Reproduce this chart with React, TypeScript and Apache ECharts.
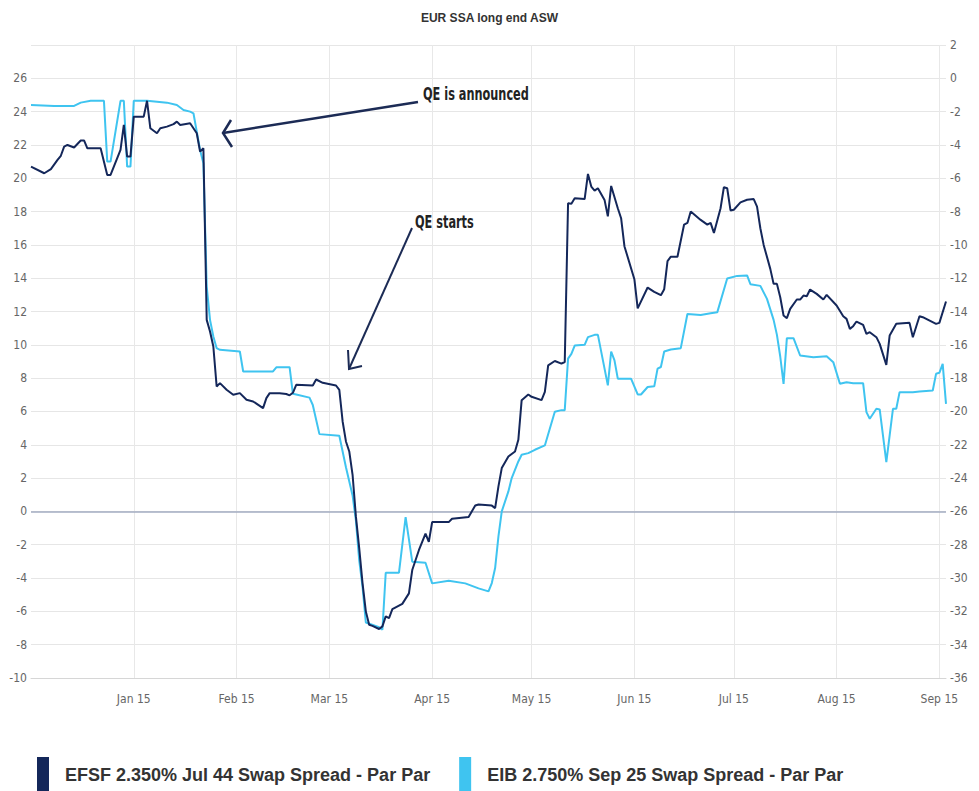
import React, { useEffect, useRef } from "react";
import * as echarts from "echarts";

const TITLE = "EUR SSA long end ASW";
const EFSF_NAME = "EFSF 2.350% Jul 44 Swap Spread - Par Par";
const EIB_NAME = "EIB 2.750% Sep 25 Swap Spread - Par Par";
const START_DATE = "2014-12-01";
const END_DATE = "2015-09-03";
const MONTHS = ["Jan", "Feb", "Mar", "Apr", "May", "Jun", "Jul", "Aug", "Sep", "Oct", "Nov", "Dec"];

// EFSF (left axis)
const EFSF: [string, number][] = [
  ["2014-12-01", 20.7], ["2014-12-05", 20.3], ["2014-12-07", 20.55], ["2014-12-09", 21.1],
  ["2014-12-10", 21.35], ["2014-12-11", 21.9], ["2014-12-12", 22.0], ["2014-12-14", 21.85],
  ["2014-12-16", 22.27], ["2014-12-17", 22.27], ["2014-12-18", 21.8], ["2014-12-22", 21.8],
  ["2014-12-24", 20.2], ["2014-12-25", 20.2], ["2014-12-28", 21.7], ["2014-12-29", 23.2],
  ["2014-12-30", 21.3], ["2014-12-31", 21.3], ["2015-01-01", 23.7], ["2015-01-04", 23.7],
  ["2015-01-05", 24.65], ["2015-01-06", 23.0], ["2015-01-08", 22.7], ["2015-01-09", 23.0],
  ["2015-01-11", 23.1], ["2015-01-13", 23.25], ["2015-01-14", 23.4], ["2015-01-15", 23.2],
  ["2015-01-18", 23.3], ["2015-01-20", 22.7], ["2015-01-21", 21.6], ["2015-01-22", 21.8],
  ["2015-01-23", 11.5], ["2015-01-24", 10.8], ["2015-01-25", 9.9], ["2015-01-26", 7.5],
  ["2015-01-27", 7.7], ["2015-01-29", 7.3], ["2015-01-31", 7.0], ["2015-02-02", 7.1],
  ["2015-02-04", 6.7], ["2015-02-06", 6.6], ["2015-02-09", 6.2], ["2015-02-10", 6.8],
  ["2015-02-11", 7.1], ["2015-02-14", 7.1], ["2015-02-16", 7.05], ["2015-02-17", 6.97],
  ["2015-02-18", 7.12], ["2015-02-19", 7.6], ["2015-02-24", 7.56], ["2015-02-25", 7.92],
  ["2015-02-27", 7.72], ["2015-03-03", 7.56], ["2015-03-04", 7.3], ["2015-03-05", 5.4],
  ["2015-03-06", 4.2], ["2015-03-07", 3.6], ["2015-03-08", 2.2], ["2015-03-09", -0.3],
  ["2015-03-10", -2.2], ["2015-03-11", -4.3], ["2015-03-12", -6.0], ["2015-03-13", -6.8],
  ["2015-03-14", -6.87], ["2015-03-16", -7.06], ["2015-03-17", -6.9], ["2015-03-18", -6.3],
  ["2015-03-19", -6.4], ["2015-03-20", -5.87], ["2015-03-23", -5.55], ["2015-03-25", -4.92],
  ["2015-03-26", -3.52], ["2015-03-28", -2.33], ["2015-03-30", -1.33], ["2015-03-31", -1.83],
  ["2015-04-01", -0.64], ["2015-04-06", -0.64], ["2015-04-07", -0.44], ["2015-04-12", -0.34],
  ["2015-04-14", 0.36], ["2015-04-15", 0.42], ["2015-04-19", 0.35], ["2015-04-20", 0.2],
  ["2015-04-21", 1.5], ["2015-04-22", 2.6], ["2015-04-24", 3.3], ["2015-04-26", 3.6],
  ["2015-04-27", 4.3], ["2015-04-28", 6.68], ["2015-04-30", 7.02], ["2015-05-01", 6.88],
  ["2015-05-04", 6.68], ["2015-05-05", 7.18], ["2015-05-06", 8.77], ["2015-05-08", 9.03],
  ["2015-05-10", 8.87], ["2015-05-11", 8.97], ["2015-05-12", 18.5], ["2015-05-13", 18.47],
  ["2015-05-14", 18.8], ["2015-05-17", 18.75], ["2015-05-18", 20.26], ["2015-05-19", 19.5],
  ["2015-05-20", 19.26], ["2015-05-21", 19.4], ["2015-05-23", 18.7], ["2015-05-24", 17.71],
  ["2015-05-25", 19.54], ["2015-05-27", 18.2], ["2015-05-28", 17.6], ["2015-05-29", 15.92],
  ["2015-06-01", 13.94], ["2015-06-02", 12.19], ["2015-06-05", 13.44], ["2015-06-07", 13.18],
  ["2015-06-09", 12.98], ["2015-06-10", 13.34], ["2015-06-11", 15.03], ["2015-06-12", 15.29],
  ["2015-06-14", 15.29], ["2015-06-16", 17.22], ["2015-06-17", 17.32], ["2015-06-18", 18.0],
  ["2015-06-21", 17.5], ["2015-06-23", 17.22], ["2015-06-24", 17.32], ["2015-06-25", 16.72],
  ["2015-06-27", 18.2], ["2015-06-28", 19.46], ["2015-06-29", 19.4], ["2015-06-30", 18.07],
  ["2015-07-01", 18.11], ["2015-07-03", 18.55], ["2015-07-05", 18.71], ["2015-07-07", 18.75],
  ["2015-07-08", 18.3], ["2015-07-09", 17.0], ["2015-07-10", 16.0], ["2015-07-12", 14.56],
  ["2015-07-13", 13.66], ["2015-07-14", 13.66], ["2015-07-15", 12.86], ["2015-07-16", 11.76],
  ["2015-07-17", 11.6], ["2015-07-18", 12.16], ["2015-07-20", 12.72], ["2015-07-21", 12.72],
  ["2015-07-22", 12.96], ["2015-07-23", 12.92], ["2015-07-24", 13.32], ["2015-07-26", 13.06],
  ["2015-07-28", 12.72], ["2015-07-29", 13.0], ["2015-08-01", 12.36], ["2015-08-03", 11.72],
  ["2015-08-04", 11.56], ["2015-08-05", 10.96], ["2015-08-06", 11.12], ["2015-08-07", 11.4],
  ["2015-08-09", 11.2], ["2015-08-10", 10.66], ["2015-08-11", 10.76], ["2015-08-13", 10.46],
  ["2015-08-14", 10.06], ["2015-08-16", 8.8], ["2015-08-17", 10.56], ["2015-08-19", 11.26],
  ["2015-08-23", 11.32], ["2015-08-24", 10.46], ["2015-08-26", 11.72], ["2015-08-27", 11.66],
  ["2015-08-31", 11.26], ["2015-09-01", 11.32], ["2015-09-03", 12.6],
];

// EIB (right axis)
const EIB: [string, number][] = [
  ["2014-12-01", -1.6], ["2014-12-08", -1.66], ["2014-12-14", -1.66], ["2014-12-16", -1.46],
  ["2014-12-19", -1.35], ["2014-12-23", -1.35], ["2014-12-24", -5.0], ["2014-12-25", -5.0],
  ["2014-12-28", -1.35], ["2014-12-29", -1.35], ["2014-12-30", -5.3], ["2014-12-31", -5.3],
  ["2015-01-01", -1.35], ["2015-01-05", -1.35], ["2015-01-11", -1.46], ["2015-01-14", -1.6],
  ["2015-01-16", -1.9], ["2015-01-18", -2.0], ["2015-01-19", -2.1], ["2015-01-20", -3.2],
  ["2015-01-21", -4.3], ["2015-01-22", -5.1], ["2015-01-23", -12.5], ["2015-01-24", -14.5],
  ["2015-01-25", -15.5], ["2015-01-26", -16.2], ["2015-01-27", -16.3], ["2015-02-02", -16.4],
  ["2015-02-03", -17.6], ["2015-02-12", -17.6], ["2015-02-13", -17.35], ["2015-02-17", -17.34],
  ["2015-02-18", -18.94], ["2015-02-19", -18.98], ["2015-02-23", -19.17], ["2015-02-24", -19.61],
  ["2015-02-26", -21.36], ["2015-03-04", -21.46], ["2015-03-06", -23.35], ["2015-03-08", -25.04],
  ["2015-03-09", -26.54], ["2015-03-10", -28.93], ["2015-03-11", -30.52], ["2015-03-12", -32.67],
  ["2015-03-16", -32.95], ["2015-03-17", -33.1], ["2015-03-18", -29.68], ["2015-03-22", -29.68],
  ["2015-03-24", -26.34], ["2015-03-26", -29.02], ["2015-03-30", -29.08], ["2015-04-01", -30.32],
  ["2015-04-06", -30.16], ["2015-04-11", -30.32], ["2015-04-15", -30.62], ["2015-04-18", -30.8],
  ["2015-04-19", -30.3], ["2015-04-20", -29.4], ["2015-04-21", -27.5], ["2015-04-22", -26.0],
  ["2015-04-24", -24.8], ["2015-04-25", -24.0], ["2015-04-27", -23.0], ["2015-04-28", -22.6],
  ["2015-04-30", -22.5], ["2015-05-02", -22.3], ["2015-05-05", -22.04], ["2015-05-08", -20.02],
  ["2015-05-10", -19.92], ["2015-05-11", -19.92], ["2015-05-12", -16.83], ["2015-05-13", -16.54],
  ["2015-05-14", -16.04], ["2015-05-17", -16.0], ["2015-05-18", -15.54], ["2015-05-20", -15.4],
  ["2015-05-21", -15.4], ["2015-05-24", -18.43], ["2015-05-25", -16.4], ["2015-05-26", -16.93],
  ["2015-05-27", -18.03], ["2015-05-31", -18.03], ["2015-06-02", -18.98], ["2015-06-03", -18.98],
  ["2015-06-05", -18.53], ["2015-06-07", -18.49], ["2015-06-08", -17.43], ["2015-06-09", -17.33],
  ["2015-06-10", -16.4], ["2015-06-12", -16.28], ["2015-06-15", -16.2], ["2015-06-17", -14.15],
  ["2015-06-21", -14.21], ["2015-06-24", -14.11], ["2015-06-26", -14.05], ["2015-06-29", -12.02],
  ["2015-07-02", -11.86], ["2015-07-05", -11.83], ["2015-07-06", -12.36], ["2015-07-09", -12.46],
  ["2015-07-11", -13.24], ["2015-07-13", -14.5], ["2015-07-14", -15.4], ["2015-07-15", -16.7],
  ["2015-07-16", -18.34], ["2015-07-17", -15.6], ["2015-07-19", -15.6], ["2015-07-21", -16.64],
  ["2015-07-25", -16.74], ["2015-07-29", -16.68], ["2015-07-31", -17.04], ["2015-08-02", -18.34],
  ["2015-08-04", -18.24], ["2015-08-06", -18.3], ["2015-08-09", -18.3], ["2015-08-10", -20.04],
  ["2015-08-11", -20.44], ["2015-08-13", -19.84], ["2015-08-14", -19.88], ["2015-08-16", -23.04],
  ["2015-08-18", -19.84], ["2015-08-19", -19.84], ["2015-08-20", -18.84], ["2015-08-24", -18.84],
  ["2015-08-26", -18.8], ["2015-08-30", -18.74], ["2015-08-31", -17.74], ["2015-09-01", -17.68],
  ["2015-09-02", -17.14], ["2015-09-03", -19.54],
];

const LEFT_AXIS = { min: -10, max: 28, interval: 2 };
const RIGHT_AXIS = { min: -36, max: 2, interval: 2 };
const ANNOTATIONS = ["QE is announced", "QE starts"];

const NAVY = "#14275a";
const CYAN = "#3fc4f0";
const NARROW = '"Liberation Sans Narrow", "DejaVu Sans Condensed", "Arial Narrow", "Liberation Sans", sans-serif';
const ARIAL = '"Liberation Sans", Arial, sans-serif';

function buildDays(): string[] {
  const out: string[] = [];
  const [sy, sm, sd] = START_DATE.split("-").map(Number);
  const [ey, em, ed] = END_DATE.split("-").map(Number);
  let t = Date.UTC(sy, sm - 1, sd);
  const end = Date.UTC(ey, em - 1, ed);
  while (t <= end) {
    out.push(new Date(t).toISOString().slice(0, 10));
    t += 86400000;
  }
  return out;
}

const isMonthStart = (_i: number, v: string) => v.slice(8) === "01" && v !== START_DATE;

export default function App() {
  const ref = useRef<HTMLDivElement>(null);
  useEffect(() => {
    if (!ref.current) return;
    const chart = echarts.init(ref.current, null, { renderer: "svg" });
    const days = buildDays();
    const annText = (x: number, y: number, text: string) => ({
      type: "text",
      x,
      y,
      scaleX: 0.74,
      style: {
        text,
        fontSize: 17,
        fontWeight: "bold",
        fill: "#222",
        fontFamily: NARROW,
        verticalAlign: "middle",
      },
      z: 10,
    });
    const option: any = {
      animation: false,
      backgroundColor: "#ffffff",
      title: {
        text: TITLE,
        left: "center",
        top: 7,
        textStyle: { fontSize: 12, fontWeight: "bold", color: "#333", fontFamily: ARIAL },
      },
      grid: { left: 31, right: 33, top: 45, bottom: 113, containLabel: false },
      legend: {
        top: 752,
        left: 32,
        icon: "rect",
        itemWidth: 12,
        itemHeight: 36,
        itemGap: 29,
        selectedMode: false,
        textStyle: {
          fontSize: 18,
          fontWeight: "bold",
          color: "#333",
          fontFamily: ARIAL,
          padding: [0, 0, 0, 11],
        },
        data: [EFSF_NAME, EIB_NAME],
      },
      xAxis: {
        type: "category",
        data: days,
        boundaryGap: false,
        axisLine: { show: true, onZero: false, lineStyle: { color: "#d6d6d6" } },
        axisTick: { show: false },
        axisLabel: {
          interval: isMonthStart,
          margin: 15,
          color: "#666",
          fontSize: 12,
          fontFamily: NARROW,
          formatter: (v: string) => `${MONTHS[Number(v.slice(5, 7)) - 1]} ${v.slice(2, 4)}`,
        },
        splitLine: { show: true, interval: isMonthStart, lineStyle: { color: "#e8e8e8", width: 1 } },
      },
      yAxis: [
        {
          type: "value",
          position: "left",
          min: LEFT_AXIS.min,
          max: LEFT_AXIS.max,
          interval: LEFT_AXIS.interval,
          axisLine: { show: false },
          axisTick: { show: false },
          axisLabel: { showMaxLabel: false, margin: 4, color: "#666", fontSize: 12, fontFamily: NARROW },
          splitLine: { show: true, lineStyle: { color: "#e6e6e6" } },
        },
        {
          type: "value",
          position: "right",
          min: RIGHT_AXIS.min,
          max: RIGHT_AXIS.max,
          interval: RIGHT_AXIS.interval,
          axisLine: { show: false },
          axisTick: { show: false },
          axisLabel: { margin: 4, color: "#666", fontSize: 12, fontFamily: NARROW },
          splitLine: { show: false },
        },
      ],
      series: [
        {
          name: EFSF_NAME,
          type: "line",
          yAxisIndex: 0,
          data: EFSF,
          symbol: "none",
          color: NAVY,
          lineStyle: { color: NAVY, width: 2 },
          z: 3,
          markLine: {
            silent: true,
            symbol: "none",
            label: { show: false },
            lineStyle: { color: "#a3adc2", width: 1.5, type: "solid" },
            data: [{ yAxis: 0 }],
            z: 1,
          },
        },
        {
          name: EIB_NAME,
          type: "line",
          yAxisIndex: 1,
          data: EIB,
          symbol: "none",
          color: CYAN,
          lineStyle: { color: CYAN, width: 2 },
          z: 2,
        },
      ],
      graphic: [
        { type: "line", shape: { x1: 418, y1: 102, x2: 223, y2: 133 }, style: { stroke: "#1c2b55", lineWidth: 2.5 }, z: 10 },
        { type: "polyline", shape: { points: [[231, 120], [223, 133], [232, 147]] }, style: { stroke: "#1c2b55", lineWidth: 2.5, fill: null }, z: 10 },
        annText(423, 94, ANNOTATIONS[0]),
        { type: "line", shape: { x1: 412, y1: 228, x2: 349, y2: 369 }, style: { stroke: "#1c2b55", lineWidth: 2 }, z: 10 },
        { type: "polyline", shape: { points: [[348, 350], [349, 369], [362, 366]] }, style: { stroke: "#1c2b55", lineWidth: 2, fill: null }, z: 10 },
        annText(415, 222, ANNOTATIONS[1]),
      ],
    };
    chart.setOption(option);
    return () => chart.dispose();
  }, []);
  return (
    <div
      ref={ref}
      style={{ position: "fixed", left: 0, top: 0, width: 979, height: 791, background: "#fff" }}
    />
  );
}
